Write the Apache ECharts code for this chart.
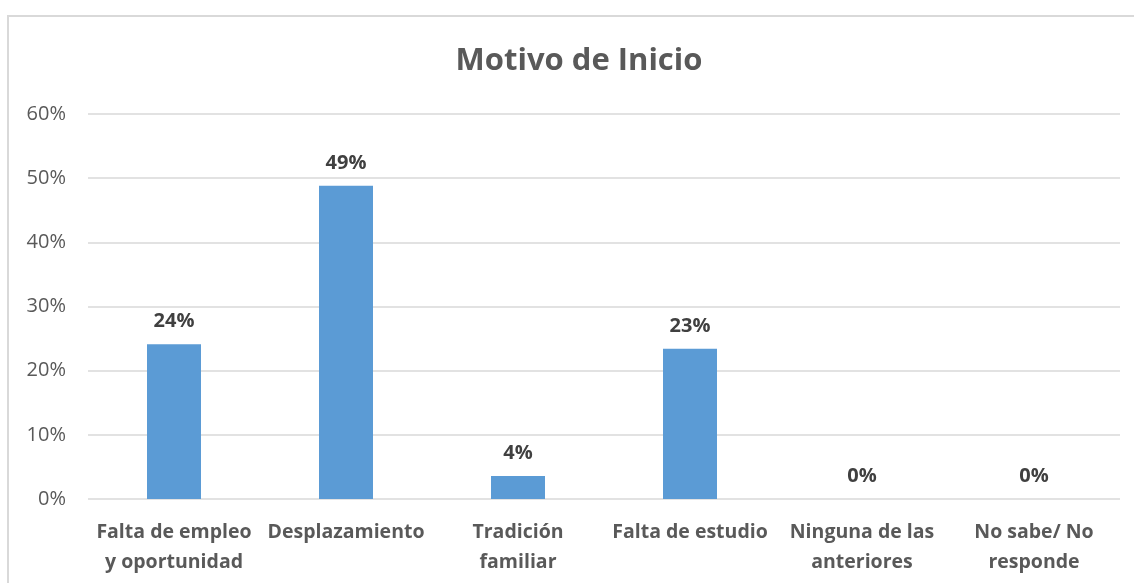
<!DOCTYPE html>
<html>
<head>
<meta charset="utf-8">
<script src="https://cdn.jsdelivr.net/npm/echarts@6/dist/echarts.min.js"></script>
<style>
  html, body { margin: 0; padding: 0; background: #fff; overflow: hidden; }
  #frame { position: absolute; left: 7px; top: 15px; width: 1140px; height: 580px; border: 2px solid #d9d9d9; box-sizing: border-box; }
  #chart { position: absolute; left: 0; top: 0; width: 1134px; height: 583px; }
</style>
</head>
<body>
<div id="frame"></div>
<div id="chart"></div>
<script>
// categorias y valores (%)
const categories = [
  'Falta de empleo\ny oportunidad',
  'Desplazamiento',
  'Tradición\nfamiliar',
  'Falta de estudio',
  'Ninguna de las\nanteriores',
  'No sabe/ No\nresponde'
];
const values = [24.1, 48.8, 3.6, 23.4, 0, 0];

const chart = echarts.init(document.getElementById('chart'));
const font = '"Open Sans", "Noto Sans", sans-serif';

chart.setOption({
  animation: false,
  textStyle: { fontFamily: font },
  title: {
    text: 'Motivo de Inicio',
    left: 574,
    top: 41,
    textAlign: 'center',
    textStyle: { fontSize: 31, fontWeight: 'bold', color: '#595959', fontFamily: font }
  },
  grid: { left: 88, right: 14, top: 114, bottom: 84 },
  xAxis: {
    type: 'category',
    data: categories,
    axisLine: { show: false },
    axisTick: { show: false },
    axisLabel: {
      interval: 0,
      margin: 18,
      fontSize: 19.5,
      fontWeight: 'bold',
      color: '#595959',
      lineHeight: 30,
      fontFamily: font
    }
  },
  yAxis: {
    type: 'value',
    min: 0,
    max: 60,
    interval: 10,
    axisLine: { show: false },
    axisTick: { show: false },
    axisLabel: {
      formatter: '{value}%',
      fontSize: 20,
      color: '#595959',
      margin: 22,
      fontFamily: font
    },
    splitLine: { lineStyle: { color: '#d9d9d9', width: 1.5 } }
  },
  series: [{
    type: 'bar',
    data: values,
    barWidth: 54,
    itemStyle: { color: '#5b9bd5' },
    label: {
      show: true,
      position: 'top',
      distance: 13,
      formatter: p => Math.round(p.value) + '%',
      fontSize: 20,
      fontWeight: 'bold',
      color: '#404040',
      fontFamily: font
    }
  }]
});
</script>
</body>
</html>
